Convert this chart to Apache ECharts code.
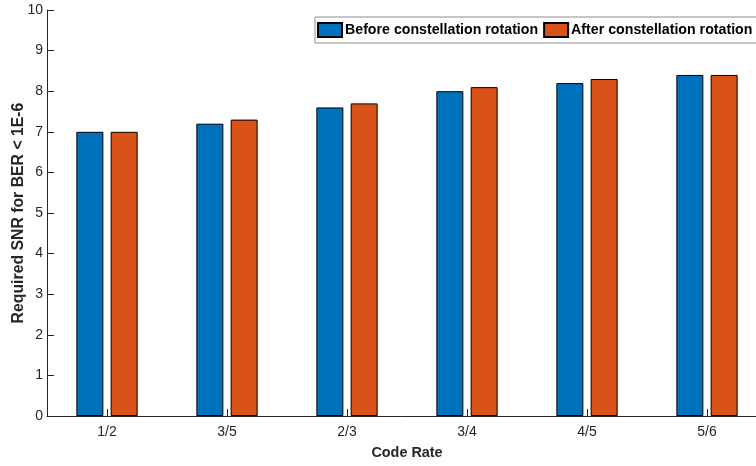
<!DOCTYPE html>
<html>
<head>
<meta charset="utf-8">
<script src="https://cdn.jsdelivr.net/npm/echarts@6/dist/echarts.min.js"></script>
<style>html,body{margin:0;padding:0;background:#fff;}#c{width:756px;height:466px;}</style>
</head>
<body>
<div id="c"></div>
<script>
const categories = ['1/2', '3/5', '2/3', '3/4', '4/5', '5/6'];
const beforeRotation = [7.0, 7.2, 7.6, 8.0, 8.2, 8.4];
const afterRotation = [7.0, 7.3, 7.7, 8.1, 8.3, 8.4];
const yTicks = [0, 1, 2, 3, 4, 5, 6, 7, 8, 9, 10];

const axisColor = '#262626';
const font = 'Arial, "Liberation Sans", Helvetica, sans-serif';
const chart = echarts.init(document.getElementById('c'));
chart.setOption({
  animation: false,
  backgroundColor: '#fff',
  textStyle: { fontFamily: font },
  grid: { left: 47, top: 10, width: 720, height: 406, containLabel: false, outerBoundsMode: 'none' },
  legend: {
    left: 315, top: 17,
    width: 800,
    orient: 'horizontal',
    icon: 'rect',
    itemWidth: 24, itemHeight: 14,
    itemGap: 5,
    padding: [5, 12, 5, 2],
    borderColor: '#8c8c8c', borderWidth: 1,
    backgroundColor: '#fff',
    textStyle: { fontFamily: font, fontSize: 14.2, fontWeight: 'bold', color: '#000', padding: [0, 0, 0, -2] },
    data: ['Before constellation rotation', 'After constellation rotation']
  },
  xAxis: [{
    type: 'category',
    data: categories,
    name: 'Code Rate',
    nameLocation: 'middle',
    nameGap: 30,
    nameMoveOverlap: false,
    nameTextStyle: { fontFamily: font, fontSize: 14.4, fontWeight: 'bold', color: axisColor },
    axisLine: { lineStyle: { color: axisColor, width: 1 } },
    axisTick: { inside: true, length: 7, lineStyle: { color: axisColor } },
    axisLabel: { fontFamily: font, fontSize: 14, color: axisColor, margin: 9 },
    splitLine: { show: false }
  }, {
    type: 'category',
    data: categories,
    position: 'bottom',
    axisLine: { show: false },
    axisTick: { show: true, alignWithLabel: true, inside: true, length: 7, lineStyle: { color: axisColor } },
    axisLabel: { show: false },
    splitLine: { show: false }
  }],
  yAxis: {
    type: 'value',
    min: 0, max: 10, interval: 1,
    name: 'Required SNR for BER < 1E-6',
    nameLocation: 'middle',
    nameGap: 20,
    nameMoveOverlap: false,
    nameTextStyle: { fontFamily: font, fontSize: 15.8, fontWeight: 'bold', color: axisColor },
    axisLine: { show: true, lineStyle: { color: axisColor, width: 1 } },
    axisTick: { show: true, inside: true, length: 7, lineStyle: { color: axisColor } },
    axisLabel: {
      fontFamily: font, fontSize: 14, color: axisColor, margin: 4,
      formatter: v => yTicks.includes(v) ? String(v) : ''
    },
    splitLine: { show: false }
  },
  series: [{
    name: 'Before constellation rotation',
    type: 'bar',
    xAxisIndex: 0,
    data: beforeRotation,
    barWidth: 27,
    barGap: '27%',
    itemStyle: { color: '#0072BD', borderColor: '#000', borderWidth: 1 }
  }, {
    name: 'After constellation rotation',
    type: 'bar',
    xAxisIndex: 0,
    data: afterRotation,
    barWidth: 27,
    barGap: '27%',
    itemStyle: { color: '#D95319', borderColor: '#000', borderWidth: 1 }
  }]
});
</script>
</body>
</html>
